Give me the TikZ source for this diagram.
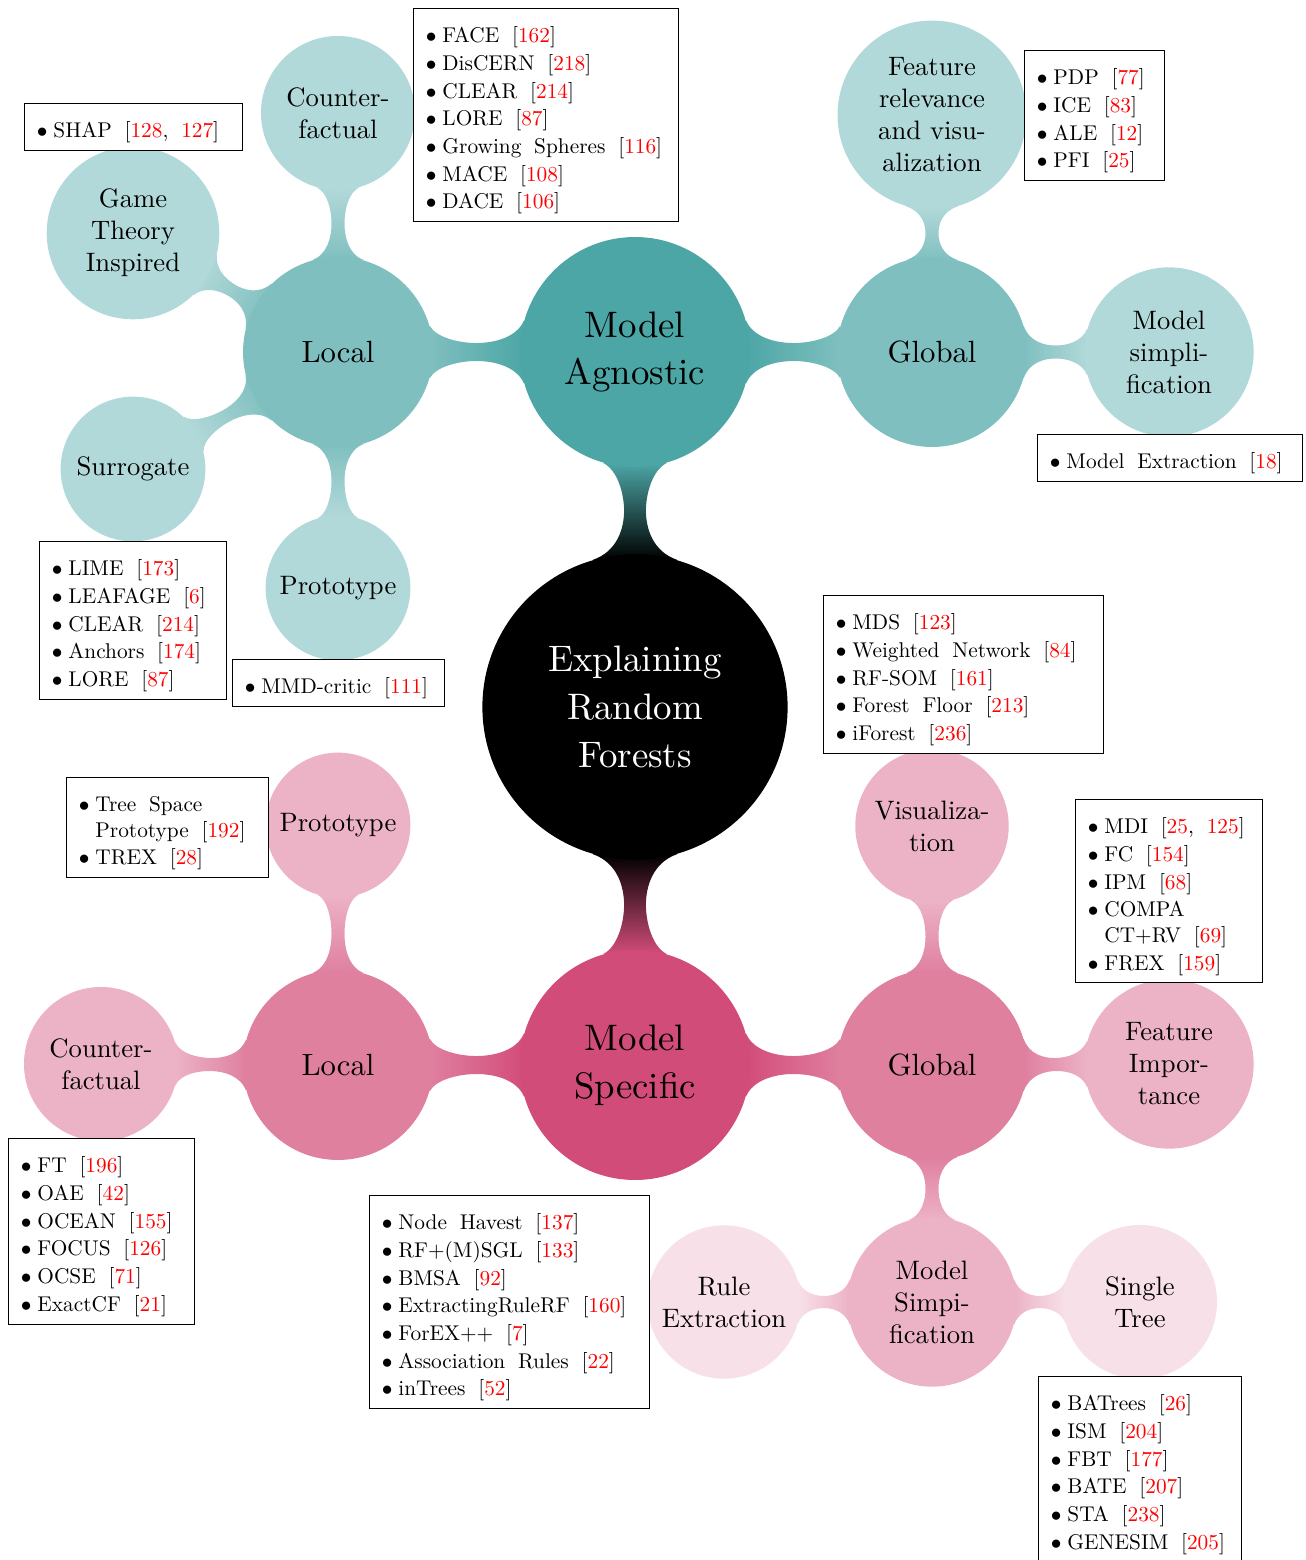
\documentclass[tikz,border=0pt]{standalone}
\usepackage{fontspec}
\setmainfont{lmroman10-regular.otf}[BoldFont=lmroman10-bold.otf]
\usepackage{xcolor}
\usetikzlibrary{calc,backgrounds}

\newcommand{\rc}[1]{\textcolor{red}{#1}}
\newcommand{\itm}{\ensuremath{\bullet}\kern2.8pt}
\newcommand{\fitm}[2]{\makebox[#1][l]{\rule{0pt}{12.5pt}\itm #2}}
\newcommand{\gap}{\phantom{\ensuremath{\bullet}}\kern2.8pt}

% shaded bar between two circles: from, to, direction, neck half width, from colour, to colour
\newcommand{\conbar}[6]{%
  \pgfmathtruncatemacro\dirback{mod(#3+180,360)}%
  \pgfmathtruncatemacro\fromup{mod(#3+16,360)}%
  \pgfmathtruncatemacro\fromdn{mod(#3+344,360)}%
  \pgfmathtruncatemacro\toup{mod(#3+164,360)}%
  \pgfmathtruncatemacro\todn{mod(#3+196,360)}%
  \pgfmathtruncatemacro\shadeang{mod(#3+270,360)}%
  \shade[top color=#6, bottom color=#5, shading angle=\shadeang]
    (#1.\fromup)
      .. controls ($(#1.#3)!0.03!(#2.\dirback)!{1.6*#4}!90:(#2.\dirback)$)
             and ($(#1.#3)!0.3!(#2.\dirback)!#4!90:(#2.\dirback)$)
      .. ($(#1.#3)!0.5!(#2.\dirback)!#4!90:(#2.\dirback)$)
      .. controls ($(#1.#3)!0.7!(#2.\dirback)!#4!90:(#2.\dirback)$)
             and ($(#1.#3)!0.97!(#2.\dirback)!{1.6*#4}!90:(#2.\dirback)$)
      .. (#2.\toup)
    -- (#2.\todn)
      .. controls ($(#1.#3)!0.97!(#2.\dirback)!{1.6*#4}!-90:(#2.\dirback)$)
             and ($(#1.#3)!0.7!(#2.\dirback)!#4!-90:(#2.\dirback)$)
      .. ($(#1.#3)!0.5!(#2.\dirback)!#4!-90:(#2.\dirback)$)
      .. controls ($(#1.#3)!0.3!(#2.\dirback)!#4!-90:(#2.\dirback)$)
             and ($(#1.#3)!0.03!(#2.\dirback)!{1.6*#4}!-90:(#2.\dirback)$)
      .. (#1.\fromdn)
    -- cycle;
}

\tikzset{
  conc/.style={circle, align=center, inner sep=3pt},
  rootconc/.style={conc, fill=black, text=white, minimum size=5.03cm, text width=3.6cm, font=\fontsize{17.28}{22.5}\selectfont},
  firstconc/.style={conc, minimum size=3.79cm, text width=2.9cm, font=\fontsize{17.28}{22.5}\selectfont},
  secondconc/.style={conc, minimum size=3.13cm, text width=2.4cm, font=\Large},
  thirdconc/.style={conc, text width=2.1cm, font=\fontsize{12.5}{15}\selectfont},
  refbox/.style={draw, fill=white, align=left, inner xsep=5.8pt, inner ysep=3.5pt,
    execute at begin node={\spaceskip=6pt\relax}}
}

\begin{document}
\begin{tikzpicture}[x=0.01648cm,y=-0.01648cm]
    \useasboundingbox (0,0) rectangle (1306,1560);

    % root and first level
    \node[rootconc] (root) at (635,707) {Explaining\\Random\\Forests};
    \node[firstconc,fill=teal!70] (agn) at (635,352) {Model\\Agnostic};
    \node[firstconc,fill=purple!70] (spec) at (635,1065) {Model\\Specific};

    % model agnostic branch
    \node[secondconc,fill=teal!50] (aloc) at (338,352) {Local};
    \node[secondconc,fill=teal!50] (aglob) at (932,352) {Global};
    \node[thirdconc,fill=teal!30] (acf) at (338,113) {Counter-\\factual};
    \node[thirdconc,fill=teal!30] (agame) at (133,233) {Game\\Theory\\Inspired};
    \node[thirdconc,fill=teal!30] (asur) at (133,469) {Surrogate};
    \node[thirdconc,fill=teal!30] (aproto) at (338,588) {Prototype};
    \node[thirdconc,fill=teal!30] (afeat) at (932,115) {Feature\\relevance\\and visu-\\alization};
    \node[thirdconc,fill=teal!30] (asimp) at (1169,352) {Model\\simpli-\\fication};

    % model specific branch
    \node[secondconc,fill=purple!50] (sloc) at (338,1065) {Local};
    \node[secondconc,fill=purple!50] (sglob) at (932,1065) {Global};
    \node[thirdconc,fill=purple!30] (sproto) at (338,825) {Prototype};
    \node[thirdconc,fill=purple!30] (scf) at (101,1064) {Counter-\\factual};
    \node[thirdconc,fill=purple!30] (svis) at (932,826) {Visualiza-\\tion};
    \node[thirdconc,fill=purple!30] (simp) at (1169,1064) {Feature\\Impor-\\tance};
    \node[thirdconc,fill=purple!30] (ssimp) at (932,1302) {Model\\Simpi-\\fication};
    \node[thirdconc,fill=purple!12] (srule) at (724,1302) {Rule\\Extraction};
    \node[thirdconc,fill=purple!12] (stree) at (1140,1302) {Single\\Tree};

    % connection bars
    \begin{scope}[on background layer]
        \conbar{root}{agn}{90}{0.18cm}{black}{teal!70}
        \conbar{root}{spec}{270}{0.18cm}{black}{purple!70}
        \foreach \a/\b/\t in {agn/aloc/180,agn/aglob/0}
            {\conbar{\a}{\b}{\t}{0.148cm}{teal!70}{teal!50}}
        \foreach \a/\b/\t in {aloc/acf/90,aloc/agame/150,aloc/asur/210,aloc/aproto/270,aglob/afeat/90,aglob/asimp/0}
            {\conbar{\a}{\b}{\t}{0.107cm}{teal!50}{teal!30}}
        \foreach \a/\b/\t in {spec/sloc/180,spec/sglob/0}
            {\conbar{\a}{\b}{\t}{0.148cm}{purple!70}{purple!50}}
        \foreach \a/\b/\t in {sloc/sproto/90,sloc/scf/180,sglob/svis/90,sglob/simp/0,sglob/ssimp/270}
            {\conbar{\a}{\b}{\t}{0.107cm}{purple!50}{purple!30}}
        \foreach \a/\b/\t in {ssimp/srule/180,ssimp/stree/0}
            {\conbar{\a}{\b}{\t}{0.1cm}{purple!30}{purple!12}}
    \end{scope}

    % reference lists
    \node[refbox,anchor=north west] (shapbox) at (24,103) {\fitm{3.185cm}{SHAP [\rc{128}, \rc{127}]}};
    \node[refbox,anchor=north west] (facebox) at (413,8) {\fitm{3.959cm}{FACE [\rc{162}]}\\[1pt]
        \itm DisCERN [\rc{218}]\\[1pt]
        \itm CLEAR [\rc{214}]\\[1pt]
        \itm LORE [\rc{87}]\\[1pt]
        \itm Growing Spheres [\rc{116}]\\[1pt]
        \itm MACE [\rc{108}]\\[1pt]
        \itm DACE [\rc{106}]};
    \node[refbox,anchor=north west] (pdpbox) at (1024,50) {\fitm{1.899cm}{PDP [\rc{77}]}\\[1pt]
        \itm ICE [\rc{83}]\\[1pt]
        \itm ALE [\rc{12}]\\[1pt]
        \itm PFI [\rc{25}]};
    \node[refbox,anchor=north west] (extbox) at (1037,434) {\fitm{3.959cm}{Model Extraction [\rc{18}]}};
    \node[refbox,anchor=north west] (limebox) at (39,541) {\fitm{2.674cm}{LIME [\rc{173}]}\\[1pt]
        \itm LEAFAGE [\rc{6}]\\[1pt]
        \itm CLEAR [\rc{214}]\\[1pt]
        \itm Anchors [\rc{174}]\\[1pt]
        \itm LORE [\rc{87}]};
    \node[refbox,anchor=north west] (mmdbox) at (232,659) {\fitm{3.086cm}{MMD-critic [\rc{111}]}};
    \node[refbox,anchor=north west] (mdsbox) at (823,595) {\fitm{4.206cm}{MDS [\rc{123}]}\\[1pt]
        \itm Weighted Network [\rc{84}]\\[1pt]
        \itm RF-SOM [\rc{161}]\\[1pt]
        \itm Forest Floor [\rc{213}]\\[1pt]
        \itm iForest [\rc{236}]};
    \node[refbox,anchor=north west] (tspbox) at (66,777) {\fitm{2.921cm}{Tree Space}\\
        \gap Prototype [\rc{192}]\\[1pt]
        \itm TREX [\rc{28}]};
    \node[refbox,anchor=north west] (mdibox) at (1075,799) {\fitm{2.674cm}{MDI [\rc{25}, \rc{125}]}\\[1pt]
        \itm FC [\rc{154}]\\[1pt]
        \itm IPM [\rc{68}]\\[1pt]
        \itm COMPA\\
        \gap CT+RV [\rc{69}]\\[1pt]
        \itm FREX [\rc{159}]};
    \node[refbox,anchor=north west] (ftbox) at (8,1138) {\fitm{2.657cm}{FT [\rc{196}]}\\[1pt]
        \itm OAE [\rc{42}]\\[1pt]
        \itm OCEAN [\rc{155}]\\[1pt]
        \itm FOCUS [\rc{126}]\\[1pt]
        \itm OCSE [\rc{71}]\\[1pt]
        \itm ExactCF [\rc{21}]};
    \node[refbox,anchor=north west] (nhbox) at (369,1195) {\fitm{4.206cm}{Node Havest [\rc{137}]}\\[1pt]
        \itm RF+(M)SGL [\rc{133}]\\[1pt]
        \itm BMSA [\rc{92}]\\[1pt]
        \itm ExtractingRuleRF [\rc{160}]\\[1pt]
        \itm ForEX++ [\rc{7}]\\[1pt]
        \itm Association Rules [\rc{22}]\\[1pt]
        \itm inTrees [\rc{52}]};
    \node[refbox,anchor=north west] (batbox) at (1038,1376) {\fitm{2.937cm}{BATrees [\rc{26}]}\\[1pt]
        \itm ISM [\rc{204}]\\[1pt]
        \itm FBT [\rc{177}]\\[1pt]
        \itm BATE [\rc{207}]\\[1pt]
        \itm STA [\rc{238}]\\[1pt]
        \itm GENESIM [\rc{205}]};
\end{tikzpicture}
\end{document}
